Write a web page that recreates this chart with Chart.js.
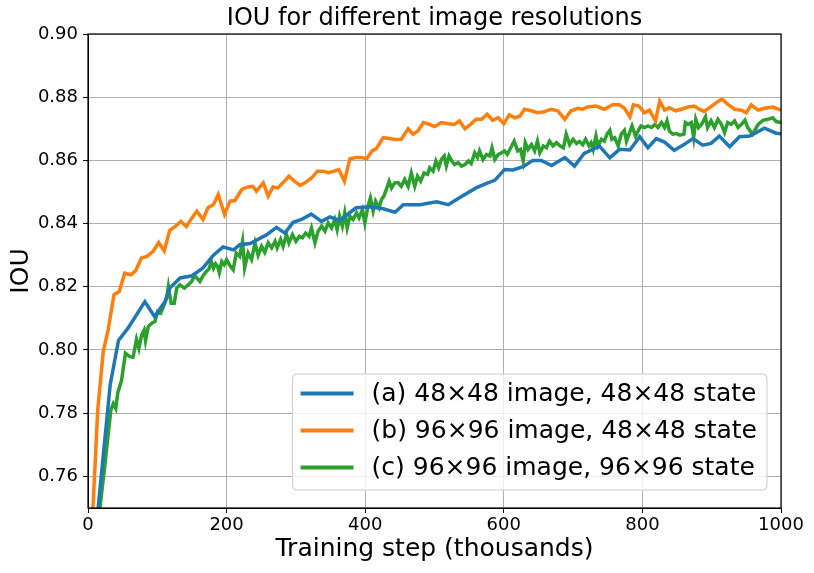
<!DOCTYPE html>
<html>
<head>
<meta charset="utf-8">
<title>IOU for different image resolutions</title>
<script src="https://cdn.jsdelivr.net/npm/chart.js@4.4.0/dist/chart.umd.min.js"></script>
<style>
    html, body { margin: 0; padding: 0; background: #fff; }
    #wrap { width: 814px; height: 573px; }
</style>
</head>
<body>
<div id="wrap"><canvas id="chart" width="814" height="573"></canvas></div>
<script>
// --- Data (x = training step in thousands, y = IOU) ---
const xTicks = [0, 200, 400, 600, 800, 1000];
const yTicks = [0.76, 0.78, 0.80, 0.82, 0.84, 0.86, 0.88, 0.90];

const seriesLabels = [
    '(a) 48×48 image, 48×48 state',
    '(b) 96×96 image, 48×48 state',
    '(c) 96×96 image, 96×96 state'
];

const stepsA = [
    8, 32, 44, 58, 82, 96, 111, 118, 133, 150,
    166, 181, 195, 210, 219, 234, 258, 272, 284, 296,
    308, 322, 337, 349, 363, 387, 407, 426, 443, 455,
    479, 503, 520, 536, 560, 575, 587, 601, 613, 628,
    642, 654, 669, 688, 702, 716, 738, 753, 767, 782,
    796, 808, 820, 832, 846, 860, 873, 887, 899, 911,
    926, 940, 955, 976, 993, 1000
];
const iouA = [
    0.735, 0.789, 0.803, 0.807, 0.8153, 0.8106, 0.8153, 0.8196, 0.8228, 0.8235,
    0.826, 0.830, 0.8326, 0.8317, 0.8333, 0.8337, 0.8365, 0.8388, 0.837, 0.8404,
    0.8413, 0.843, 0.8407, 0.8421, 0.841, 0.845, 0.8453, 0.8447, 0.8436, 0.846,
    0.846, 0.8469, 0.846, 0.8482, 0.8513, 0.8527, 0.8537, 0.8571, 0.857, 0.858,
    0.860, 0.860, 0.8584, 0.8609, 0.8582, 0.8622, 0.8645, 0.8608, 0.8635, 0.8633,
    0.8675, 0.864, 0.8669, 0.8658, 0.8632, 0.865, 0.8669, 0.8648, 0.8654, 0.8677,
    0.8643, 0.8675, 0.8677, 0.8702, 0.8686, 0.8684
];

const stepsB = [
    5, 14, 22, 29, 37.5, 45, 53, 62, 69, 77,
    85, 94, 102, 110, 118, 126, 134, 142, 150, 157,
    166, 173, 181, 188, 197, 205, 212, 222, 231, 238,
    243, 253, 260, 267, 274, 282, 290, 298, 306, 313,
    323, 331, 339, 347, 355, 362, 370, 378, 386, 395,
    402, 410, 416, 426, 435, 443, 452, 462, 469, 476,
    484, 493, 500, 510, 520, 529, 536, 544, 552, 560,
    568, 576, 584, 592, 600, 608, 616, 623, 630, 640,
    648, 657, 668, 678, 688, 697, 707, 714, 721, 733,
    745, 757, 767, 774, 782, 787, 795, 803, 810, 819,
    825, 832, 839, 848, 856, 866, 875, 882, 889, 897,
    907, 915, 923, 933, 943, 950, 957, 967, 976, 988,
    1000
];
const iouB = [
    0.740, 0.781, 0.7995, 0.8063, 0.8175, 0.8185, 0.8243, 0.8238, 0.8252, 0.8291,
    0.8296, 0.8312, 0.834, 0.8314, 0.8379, 0.8391, 0.8407, 0.8391, 0.8418, 0.8439,
    0.8413, 0.845, 0.846, 0.8492, 0.8429, 0.8471, 0.8473, 0.8508, 0.8516, 0.8518,
    0.8503, 0.8529, 0.8487, 0.8516, 0.8513, 0.8531, 0.855, 0.8534, 0.8521, 0.8529,
    0.8545, 0.8566, 0.8566, 0.8561, 0.8566, 0.8571, 0.8534, 0.8605, 0.8609, 0.8609,
    0.8605, 0.863, 0.8637, 0.8672, 0.8669, 0.8666, 0.8667, 0.870, 0.8683, 0.8693,
    0.872, 0.8714, 0.8707, 0.872, 0.8716, 0.8714, 0.8725, 0.870, 0.8714, 0.873,
    0.873, 0.8746, 0.8727, 0.8735, 0.8716, 0.8744, 0.8735, 0.874, 0.8762, 0.8757,
    0.8751, 0.8753, 0.8762, 0.8757, 0.873, 0.8757, 0.8765, 0.8762, 0.8769, 0.8772,
    0.8762, 0.8776, 0.8776, 0.8765, 0.8738, 0.8776, 0.8772, 0.8751, 0.8759, 0.8725,
    0.8788, 0.8759, 0.8767, 0.8757, 0.8762, 0.8769, 0.8772, 0.8762, 0.8755, 0.8767,
    0.8783, 0.8794, 0.8778, 0.8762, 0.8759, 0.8751, 0.8776, 0.8759, 0.8765, 0.8769,
    0.8759
];

const stepsC = [
    12, 24.5, 33, 36.5, 40, 43, 48.5, 54, 60.5, 65,
    70, 73.5, 77.5, 81, 83, 87, 92, 96.5, 100.5, 105,
    109, 113.5, 116, 120, 124.5, 128, 132.5, 139, 144.5, 149.5,
    154, 161.5, 166, 171, 174.5, 178, 181, 184, 187, 189.5,
    193, 196.5, 200, 204, 209.5, 214, 219, 223, 226, 231,
    236, 241, 245.5, 250.5, 255, 260, 265, 270, 273, 278,
    281.5, 286.5, 290, 295, 300, 305, 309.5, 314, 319, 322.5,
    327.5, 332, 337, 342, 346.5, 351.5, 356, 359.5, 363, 367,
    370.5, 374, 378, 382.5, 387.5, 391, 396, 399.5, 404, 407.5,
    411.5, 415, 420, 423.5, 427, 430.5, 434.5, 438, 442.5, 447.5,
    452, 457, 462, 466.5, 471.5, 475.5, 480, 485, 490, 493,
    498, 502, 506, 510, 514, 517, 521, 525, 529, 534,
    539, 544, 549, 553, 558, 562, 565, 570, 575, 580,
    583, 587, 592, 597, 601, 605, 610, 615, 620, 624,
    628, 631, 635, 640, 644.5, 648.5, 652, 657, 661.5, 666,
    671, 676, 681, 686, 690, 695, 700, 705, 709, 714,
    718, 723, 726, 729, 733, 736, 741, 745, 749, 753,
    756, 760, 765, 769.5, 774, 777, 781.5, 785, 790, 795,
    798, 803, 808, 813, 818, 822.5, 827.5, 832, 835.5, 839,
    844, 849, 854, 860, 862, 866, 870.5, 874, 877, 881,
    886, 891, 894, 899, 904, 909, 914, 918.5, 923, 928,
    933, 938, 943, 948, 952, 959, 967, 974, 981, 988,
    993, 1000
];
const iouC = [
    0.740, 0.764, 0.781, 0.783, 0.7815, 0.7865, 0.7905, 0.799, 0.7979, 0.7977,
    0.8034, 0.8005, 0.8048, 0.8063, 0.803, 0.8074, 0.8085, 0.809, 0.8122, 0.8117,
    0.8138, 0.8164, 0.8201, 0.8148, 0.8148, 0.8196, 0.8206, 0.8196, 0.8206, 0.8217,
    0.8235, 0.8217, 0.8235, 0.8249, 0.8256, 0.828, 0.8259, 0.8273, 0.8265, 0.8245,
    0.828, 0.827, 0.8286, 0.827, 0.8254, 0.8307, 0.8296, 0.8344, 0.826, 0.8307,
    0.8286, 0.8339, 0.830, 0.8328, 0.8309, 0.8339, 0.8323, 0.8344, 0.8323, 0.835,
    0.8328, 0.8365, 0.8339, 0.8365, 0.8344, 0.836, 0.8355, 0.837, 0.836, 0.8386,
    0.8339, 0.8376, 0.8392, 0.8376, 0.8402, 0.8386, 0.8413, 0.8381, 0.8423, 0.8392,
    0.8434, 0.8386, 0.8423, 0.8413, 0.8434, 0.8418, 0.8444, 0.8402, 0.8455, 0.8481,
    0.8439, 0.8471, 0.845, 0.8476, 0.8487, 0.8508, 0.8534, 0.8513, 0.8529, 0.853,
    0.8518, 0.854, 0.8518, 0.856, 0.8518, 0.855, 0.8534, 0.856, 0.8556, 0.8577,
    0.8566, 0.8598, 0.8577, 0.8603, 0.8614, 0.8582, 0.8614, 0.8598, 0.8587, 0.8593,
    0.8582, 0.8587, 0.8598, 0.859, 0.8624, 0.8609, 0.863, 0.8603, 0.8619, 0.8614,
    0.864, 0.8603, 0.8619, 0.8624, 0.863, 0.8619, 0.864, 0.8661, 0.863, 0.8635,
    0.8598, 0.8656, 0.8635, 0.865, 0.863, 0.8661, 0.8624, 0.8646, 0.864, 0.8661,
    0.8646, 0.8656, 0.8646, 0.864, 0.8683, 0.865, 0.8667, 0.8653, 0.866, 0.865,
    0.8667, 0.8646, 0.8656, 0.8635, 0.8677, 0.8646, 0.8667, 0.8661, 0.8683, 0.8695,
    0.8667, 0.8672, 0.8646, 0.8683, 0.8695, 0.8661, 0.8688, 0.8709, 0.8677, 0.8698,
    0.8709, 0.8704, 0.8709, 0.8704, 0.8714, 0.8704, 0.872, 0.8704, 0.8725, 0.8693,
    0.8683, 0.8685, 0.868, 0.8683, 0.872, 0.8714, 0.872, 0.8672, 0.873, 0.8704,
    0.8716, 0.8738, 0.8704, 0.8725, 0.8704, 0.873, 0.8714, 0.8688, 0.872, 0.8714,
    0.8725, 0.8704, 0.8714, 0.8727, 0.8704, 0.8683, 0.8714, 0.8727, 0.873, 0.8735,
    0.8723, 0.872
];

const FONT = '"DejaVu Sans", Verdana, sans-serif';
const colors = ['#1f77b4', '#ff7f0e', '#2ca02c'];

function toPoints(xs, ys) {
    return xs.map((x, i) => ({ x: x, y: ys[i] }));
}

// black box round the plot area, like the matplotlib spines
const framePlugin = {
    id: 'frame',
    afterDatasetsDraw(chart) {
        const { ctx, chartArea: a } = chart;
        ctx.save();
        ctx.strokeStyle = '#000';
        ctx.lineWidth = 1.2;
        ctx.strokeRect(a.left, a.top, a.right - a.left, a.bottom - a.top);
        ctx.restore();
    }
};

// legend box in the lower right of the plot area
const boxLegendPlugin = {
    id: 'boxLegend',
    afterDraw(chart) {
        const { ctx, chartArea: a } = chart;
        ctx.save();
        ctx.font = '25px ' + FONT;
        const widths = chart.data.datasets.map(d => ctx.measureText(d.label).width);
        const w = 79 + Math.max(...widths) + 10;
        const h = 116;
        const right = a.right - 14;
        const bottom = a.bottom - 18;
        const left = right - w;
        const top = bottom - h;

        ctx.beginPath();
        ctx.roundRect(left, top, w, h, 4);
        ctx.fillStyle = 'rgba(255,255,255,0.8)';
        ctx.fill();
        ctx.strokeStyle = '#cccccc';
        ctx.lineWidth = 1;
        ctx.stroke();

        chart.data.datasets.forEach((d, i) => {
            const y = top + 19.5 + i * 37;
            ctx.strokeStyle = d.borderColor;
            ctx.lineWidth = 4;
            ctx.beginPath();
            ctx.moveTo(left + 8, y);
            ctx.lineTo(left + 61, y);
            ctx.stroke();
            ctx.fillStyle = '#000';
            ctx.textAlign = 'left';
            ctx.textBaseline = 'middle';
            ctx.fillText(d.label, left + 79, y + 1);
        });
        ctx.restore();
    }
};

Chart.defaults.color = '#000';
Chart.defaults.font.family = FONT;

const ctx = document.getElementById('chart').getContext('2d');
new Chart(ctx, {
    type: 'line',
    data: {
        datasets: [
            { label: seriesLabels[0], data: toPoints(stepsA, iouA), borderColor: colors[0] },
            { label: seriesLabels[1], data: toPoints(stepsB, iouB), borderColor: colors[1] },
            { label: seriesLabels[2], data: toPoints(stepsC, iouC), borderColor: colors[2] }
        ].map(ds => Object.assign(ds, {
            backgroundColor: ds.borderColor,
            borderWidth: 3.5,
            pointRadius: 0,
            tension: 0,
            fill: false,
            clip: 0
        }))
    },
    options: {
        responsive: false,
        animation: false,
        layout: { padding: { left: 0, right: 33, top: 0, bottom: 0 } },
        plugins: {
            legend: { display: false },
            tooltip: { enabled: false },
            title: {
                display: true,
                text: 'IOU for different image resolutions',
                fullSize: false,
                color: '#000',
                font: { family: FONT, size: 24, weight: 'normal', lineHeight: 1.2 },
                padding: { top: 4, bottom: 1.2 }
            }
        },
        scales: {
            x: {
                type: 'linear',
                min: 0,
                max: 1000,
                afterFit(scale) { scale.height = 65; },
                afterBuildTicks(scale) { scale.ticks = xTicks.map(v => ({ value: v })); },
                ticks: {
                    font: { family: FONT, size: 18 },
                    color: '#000',
                    padding: 2,
                    maxRotation: 0,
                    callback: v => String(v)
                },
                grid: { color: '#b0b0b0', lineWidth: 1, tickColor: '#000', tickLength: 5 },
                border: { color: '#000', width: 1 },
                title: {
                    display: true,
                    text: 'Training step (thousands)',
                    color: '#000',
                    font: { family: FONT, size: 25, lineHeight: 1.2 },
                    padding: { top: 0, bottom: 9 }
                }
            },
            y: {
                type: 'linear',
                min: 0.75,
                max: 0.90,
                afterFit(scale) { scale.width = 88; },
                afterBuildTicks(scale) { scale.ticks = yTicks.map(v => ({ value: v })); },
                ticks: {
                    font: { family: FONT, size: 18 },
                    color: '#000',
                    padding: 5,
                    callback: v => Number(v).toFixed(2)
                },
                grid: { color: '#b0b0b0', lineWidth: 1, tickColor: '#000', tickLength: 5 },
                border: { color: '#000', width: 1 },
                title: {
                    display: true,
                    text: 'IOU',
                    color: '#000',
                    font: { family: FONT, size: 25, lineHeight: 1.2 },
                    padding: { top: 6.5, bottom: 0 }
                }
            }
        }
    },
    plugins: [framePlugin, boxLegendPlugin]
});
</script>
</body>
</html>
